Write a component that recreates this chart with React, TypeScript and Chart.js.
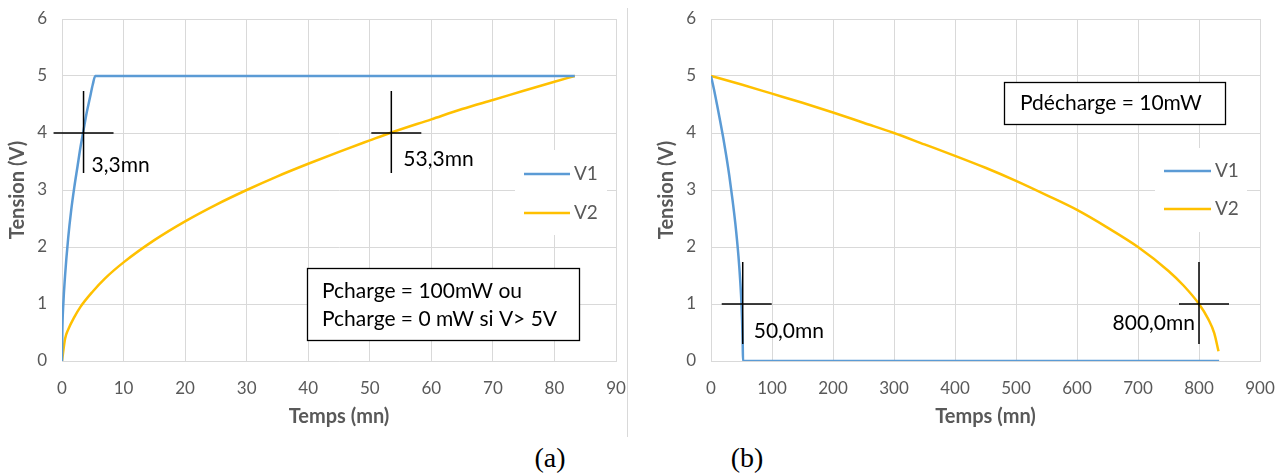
import React, { useEffect, useRef } from "react";
import { Chart, registerables } from "chart.js";

Chart.register(...registerables);

// ---------- Data (a) charge ----------
const chargeV1Time = [0, 0.05, 0.2, 0.5, 1, 1.5, 2, 2.5, 3, 3.5, 4, 4.5, 5, 5.4, 10, 20, 30, 40, 50, 60, 70, 80, 83.3];
const chargeV1Volt = [0, 0.5, 0.97, 1.5, 2.15, 2.65, 3.05, 3.4, 3.75, 4.05, 4.35, 4.6, 4.85, 5, 5, 5, 5, 5, 5, 5, 5, 5, 5];
const chargeV2Time = [0, 0.5, 1, 2, 3, 5, 7, 10, 15, 20, 25, 30, 35, 40, 45, 50, 53.3, 60, 65, 70, 75, 80, 83.3];
const chargeV2Volt = [0, 0.39, 0.55, 0.77, 0.95, 1.22, 1.45, 1.73, 2.12, 2.45, 2.74, 3.0, 3.24, 3.46, 3.67, 3.87, 4.0, 4.24, 4.42, 4.58, 4.74, 4.9, 5.0];
const chargeMarkTime = [3.5, 53.5];
const chargeMarkVolt = [4, 4];
const chargeMarkLabels = ["3,3mn", "53,3mn"];
const chargeNote = ["Pcharge = 100mW ou", "Pcharge = 0 mW si V> 5V"];
const chargeXTicks = { min: 0, max: 90, step: 10 };

// ---------- Data (b) décharge ----------
const dischV1Time = [0, 5, 10, 15, 20, 25, 30, 35, 40, 45, 48, 50, 51, 52, 52.5, 100, 200, 300, 400, 500, 600, 700, 800, 833];
const dischV1Volt = [5, 4.76, 4.49, 4.21, 3.92, 3.6, 3.25, 2.85, 2.4, 1.84, 1.39, 1.0, 0.7, 0.3, 0, 0, 0, 0, 0, 0, 0, 0, 0, 0];
const dischV2Time = [0, 50, 100, 150, 200, 250, 300, 350, 400, 450, 500, 550, 600, 650, 700, 750, 775, 800, 815, 825, 832];
const dischV2Volt = [5, 4.85, 4.69, 4.53, 4.36, 4.18, 4.0, 3.8, 3.6, 3.39, 3.16, 2.91, 2.65, 2.34, 2.0, 1.58, 1.32, 1.0, 0.74, 0.49, 0.17];
const dischMarkTime = [52, 800];
const dischMarkVolt = [1, 1];
const dischMarkLabels = ["50,0mn", "800,0mn"];
const dischNote = ["Pdécharge = 10mW"];
const dischXTicks = { min: 0, max: 900, step: 100 };

const seriesNames = ["V1", "V2"];
const yTicks = { min: 0, max: 6, step: 1 };

const BLUE = "#5b9bd5";
const GOLD = "#ffc000";
const GRID = "#d9d9d9";
const TXT = "#595959";
const FONT = "Lato, 'Open Sans', sans-serif";

const toPts = (xs: number[], ys: number[]) => xs.map((x, i) => ({ x, y: ys[i] }));

const overlayPlugin = {
  id: "overlay",
  afterDatasetsDraw(chart: any, _args: any, opts: any) {
    const ctx = chart.ctx;
    const xs = chart.scales.x;
    const ys = chart.scales.y;
    ctx.save();
    if (opts.note) {
      const n = opts.note;
      ctx.fillStyle = "#ffffff";
      ctx.fillRect(n.x, n.y, n.w, n.h);
      ctx.strokeStyle = "#000";
      ctx.lineWidth = 1.3;
      ctx.strokeRect(n.x + 0.5, n.y + 0.5, n.w, n.h);
      ctx.fillStyle = "#000";
      ctx.font = `${n.size}px ${FONT}`;
      ctx.textBaseline = "middle";
      ctx.textAlign = n.align || "left";
      n.lines.forEach((t: string, i: number) => {
        ctx.fillText(t, n.tx, n.ty + i * n.lh);
      });
    }
    if (opts.legend) {
      const L = opts.legend;
      ctx.fillStyle = "#ffffff";
      ctx.fillRect(L.x, L.y, L.w, L.h);
      const dsList = chart.data.datasets.filter((d: any) => d.inLegend);
      dsList.forEach((d: any, i: number) => {
        const yy = L.itemY[i];
        ctx.strokeStyle = d.borderColor;
        ctx.lineWidth = 2.5;
        ctx.beginPath();
        ctx.moveTo(L.lx1, yy);
        ctx.lineTo(L.lx2, yy);
        ctx.stroke();
        ctx.fillStyle = TXT;
        ctx.font = `${L.size}px ${FONT}`;
        ctx.textAlign = "left";
        ctx.textBaseline = "middle";
        ctx.fillText(d.label, L.tx, yy);
      });
    }
    if (opts.marks) {
      const M = opts.marks;
      M.times.forEach((t: number, i: number) => {
        const px = xs.getPixelForValue(t);
        const py = ys.getPixelForValue(M.volts[i]);
        ctx.strokeStyle = "#000";
        ctx.lineWidth = 1.5;
        ctx.beginPath();
        ctx.moveTo(px + M.h1[i], py);
        ctx.lineTo(px + M.h2[i], py);
        ctx.moveTo(px, py - 42);
        ctx.lineTo(px, py + 40);
        ctx.stroke();
        ctx.fillStyle = "#000";
        ctx.font = `${M.size}px ${FONT}`;
        ctx.textBaseline = "middle";
        ctx.textAlign = M.align[i];
        ctx.fillText(M.labels[i], px + M.dx[i], py + M.dy[i]);
      });
    }
    ctx.restore();
  },
};

function makeConfig(
  v1: { x: number; y: number }[],
  v2: { x: number; y: number }[],
  xt: { min: number; max: number; step: number },
  pad: { left: number; right: number; top: number; bottom: number },
  overlay: any
): any {
  return {
    type: "line",
    data: {
      datasets: [
        { label: seriesNames[0], data: v1, borderColor: BLUE, borderWidth: 2.5, pointRadius: 0, cubicInterpolationMode: "monotone", inLegend: true },
        { label: seriesNames[1], data: v2, borderColor: GOLD, borderWidth: 2.5, pointRadius: 0, cubicInterpolationMode: "monotone", inLegend: true },
      ],
    },
    options: {
      responsive: false,
      animation: false,
      events: [],
      layout: { padding: pad },
      plugins: { legend: { display: false }, tooltip: { enabled: false }, overlay },
      scales: {
        x: {
          type: "linear",
          min: xt.min,
          max: xt.max,
          ticks: { stepSize: xt.step, color: TXT, font: { family: FONT, size: 17 }, padding: 17, maxRotation: 0 },
          grid: { color: GRID, lineWidth: 1, drawTicks: false },
          border: { color: GRID },
          title: { display: true, text: "Temps (mn)", color: TXT, font: { family: FONT, size: 20, weight: "bold" }, padding: 0 },
          afterFit: (s: any) => {
            s.height = 68;
            s.paddingLeft = 0;
            s.paddingRight = 0;
          },
        },
        y: {
          min: yTicks.min,
          max: yTicks.max,
          ticks: { stepSize: yTicks.step, color: TXT, font: { family: FONT, size: 17 }, padding: 15 },
          grid: { color: GRID, lineWidth: 1, drawTicks: false },
          border: { color: GRID },
          title: { display: true, text: "Tension (V)", color: TXT, font: { family: FONT, size: 20, weight: "bold" }, padding: 0 },
          afterFit: (s: any) => {
            s.width = 56;
            s.paddingTop = 0;
            s.paddingBottom = 0;
          },
        },
      },
    },
    plugins: [overlayPlugin],
  };
}

function ChartCanvas({ config, width, height, left }: { config: any; width: number; height: number; left: number }) {
  const ref = useRef<HTMLCanvasElement>(null);
  useEffect(() => {
    if (!ref.current) return;
    const c = new Chart(ref.current, config);
    return () => c.destroy();
  }, []);
  return (
    <canvas
      ref={ref}
      width={width}
      height={height}
      style={{ position: "absolute", left, top: 0, width, height }}
    />
  );
}

export default function App() {
  const cfgA = makeConfig(
    toPts(chargeV1Time, chargeV1Volt),
    toPts(chargeV2Time, chargeV2Volt),
    chargeXTicks,
    { left: 6, right: 20, top: 19, bottom: 11 },
    {
      note: { x: 307, y: 268, w: 272, h: 72, tx: 322, ty: 291, lh: 28, size: 21, lines: chargeNote },
      legend: { x: 515, y: 150, w: 92, h: 85, itemY: [174, 213], lx1: 524, lx2: 570, tx: 574, size: 19 },
      marks: {
        times: chargeMarkTime, volts: chargeMarkVolt, labels: chargeMarkLabels, size: 21,
        h1: [-30, -20], h2: [30, 30], dx: [8, 12], dy: [32, 26], align: ["left", "left"],
      },
    }
  );
  const cfgB = makeConfig(
    toPts(dischV1Time, dischV1Volt),
    toPts(dischV2Time, dischV2Volt),
    dischXTicks,
    { left: 5, right: 23, top: 19, bottom: 11 },
    {
      note: { x: 354, y: 82, w: 221, h: 42, tx: 370, ty: 103, lh: 28, size: 21, lines: dischNote },
      legend: { x: 505, y: 148, w: 92, h: 84, itemY: [171, 209], lx1: 514, lx2: 561, tx: 565, size: 19 },
      marks: {
        times: dischMarkTime, volts: dischMarkVolt, labels: dischMarkLabels, size: 21,
        h1: [-21, -20], h2: [29, 30], dx: [11, -4], dy: [27, 19], align: ["left", "right"],
      },
    }
  );
  return (
    <div style={{ position: "absolute", left: 0, top: 0, width: 1283, height: 475, overflow: "hidden", background: "#fff" }}>
      <ChartCanvas config={cfgA} width={636} height={440} left={0} />
      <div style={{ position: "absolute", left: 627, top: 8, width: 1, height: 429, background: GRID }} />
      <ChartCanvas config={cfgB} width={633} height={440} left={650} />
      <div style={{ position: "absolute", left: 500, top: 442, width: 100, textAlign: "center", fontFamily: "'Liberation Serif', 'Times New Roman', serif", fontSize: 28, lineHeight: "32px", color: "#000" }}>(a)</div>
      <div style={{ position: "absolute", left: 697, top: 442, width: 100, textAlign: "center", fontFamily: "'Liberation Serif', 'Times New Roman', serif", fontSize: 28, lineHeight: "32px", color: "#000" }}>(b)</div>
    </div>
  );
}
